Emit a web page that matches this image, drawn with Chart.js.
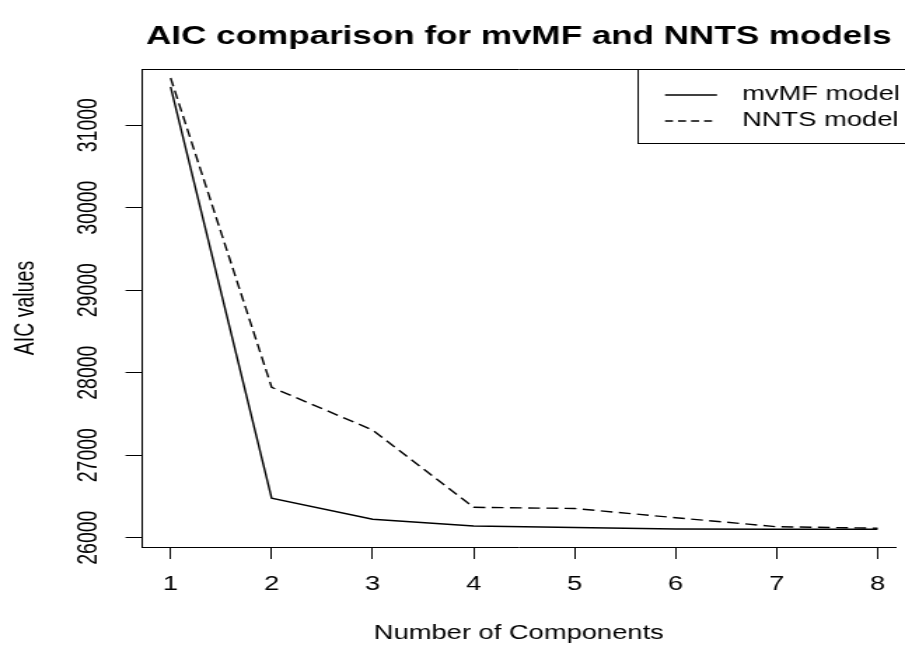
<!DOCTYPE html>
<html lang="en">
<head>
<meta charset="UTF-8">
<title>AIC comparison for mvMF and NNTS models</title>
<script src="https://cdn.jsdelivr.net/npm/chart.js@4.4.1/dist/chart.umd.min.js"></script>
<style>
    body { margin: 0; background: #ffffff; }
    .wrap { width: 905px; height: 649px; overflow: hidden; }
    #aicChart { display: block; }
</style>
</head>
<body>
<div class="wrap">
    <!-- the R figure was stretched sideways, so the canvas is drawn narrow and widened by its inline style -->
    <canvas id="aicChart" width="646" height="649" style="width:905px;height:649px"></canvas>
</div>
<script>
const FONT = "'Liberation Sans', Arial, sans-serif";

const components = [1, 2, 3, 4, 5, 6, 7, 8];
const mvmfAIC = [31463, 26478, 26223, 26142, 26124, 26105, 26103, 26102];
const nntsAIC = [31572, 27823, 27305, 26368, 26354, 26242, 26133, 26115];
const yTicks = [26000, 27000, 28000, 29000, 30000, 31000];
const seriesLabels = ['mvMF model', 'NNTS model'];

const toPoints = vals => vals.map((v, i) => ({ x: components[i], y: v }));
const axisFont = { family: FONT, size: 19.5 };

// R style legend: framed box in the top right corner of the plot
const rLegend = {
    id: 'rLegend',
    afterDatasetsDraw(chart) {
        const ctx = chart.ctx;
        const top = chart.chartArea.top;
        const left = 455.5;
        const rows = [95, 121];
        ctx.save();
        ctx.strokeStyle = '#000';
        ctx.lineWidth = 1;
        ctx.strokeRect(left, top + 0.5, chart.width - left + 10, 143 - top);
        ctx.font = '19.5px ' + FONT;
        ctx.textBaseline = 'middle';
        ctx.fillStyle = '#000';
        chart.data.datasets.forEach((ds, i) => {
            ctx.setLineDash(ds.borderDash ? [5.7, 3.6] : []);
            ctx.lineWidth = ds.borderWidth;
            ctx.beginPath();
            ctx.moveTo(474.7, rows[i]);
            ctx.lineTo(511.8, rows[i]);
            ctx.stroke();
            ctx.fillText(ds.label, 529.7, rows[i]);
        });
        ctx.restore();
    }
};

new Chart(document.getElementById('aicChart'), {
    type: 'line',
    data: {
        datasets: [
            {
                label: seriesLabels[0],
                data: toPoints(mvmfAIC),
                borderColor: '#000',
                borderWidth: 1.4,
                pointRadius: 0,
                tension: 0,
                fill: false
            },
            {
                label: seriesLabels[1],
                data: toPoints(nntsAIC),
                borderColor: '#000',
                borderWidth: 1.4,
                borderDash: [8.5, 4.5],
                pointRadius: 0,
                tension: 0,
                fill: false
            }
        ]
    },
    options: {
        responsive: false,
        animation: false,
        devicePixelRatio: 1,
        layout: { padding: 0 },
        plugins: {
            legend: { display: false },
            tooltip: { enabled: false },
            title: {
                display: true,
                text: 'AIC comparison for mvMF and NNTS models',
                fullSize: false,
                color: '#000',
                font: { family: FONT, size: 25, weight: 'bold', lineHeight: 1.2 },
                padding: { top: 22.5, bottom: 16.5 }
            }
        },
        scales: {
            x: {
                type: 'linear',
                position: 'bottom',
                min: 0.72,
                max: 8.175,
                afterBuildTicks: s => { s.ticks = components.map(v => ({ value: v })); },
                afterFit: s => { s.height = 102; },
                grid: { drawOnChartArea: false, drawTicks: true, tickLength: 12, color: '#000', lineWidth: 1 },
                border: { display: true, color: '#000', width: 1 },
                ticks: { padding: 14, color: '#000', font: axisFont, minRotation: 0, maxRotation: 0, autoSkip: false },
                title: {
                    display: true,
                    text: 'Number of Components',
                    color: '#000',
                    font: axisFont,
                    padding: { top: 0, bottom: 4 }
                }
            },
            xTop: {
                type: 'linear',
                position: 'top',
                min: 0.72,
                max: 8.175,
                afterFit: s => { s.height = 0; },
                grid: { display: false, drawTicks: false },
                border: { display: true, color: '#000', width: 1 },
                ticks: { display: false }
            },
            y: {
                type: 'linear',
                min: 25887,
                max: 31681,
                afterBuildTicks: s => { s.ticks = yTicks.map(v => ({ value: v })); },
                afterFit: s => { s.width = 101.6; },
                grid: { drawOnChartArea: false, drawTicks: true, tickLength: 12, color: '#000', lineWidth: 1 },
                border: { display: true, color: '#000', width: 1 },
                ticks: {
                    padding: -1.5,
                    crossAlign: 'center',
                    minRotation: 90,
                    maxRotation: 90,
                    color: '#000',
                    font: axisFont,
                    callback: v => String(v)
                },
                title: {
                    display: true,
                    text: 'AIC values',
                    color: '#000',
                    font: axisFont,
                    padding: { top: 7, bottom: 0 }
                }
            }
        }
    },
    plugins: [rLegend]
});
</script>
</body>
</html>
